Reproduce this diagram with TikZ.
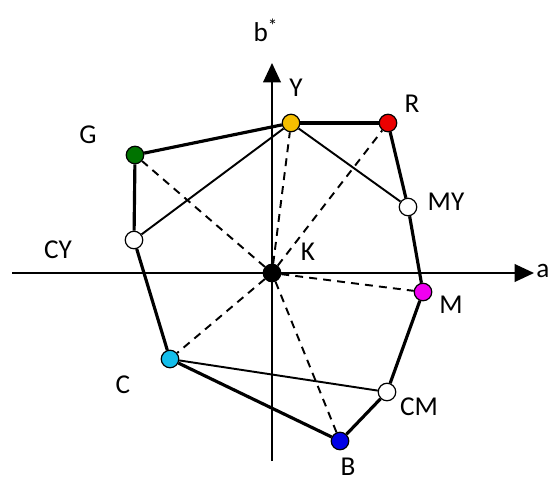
\documentclass[tikz,border=0pt]{standalone}
\usepackage{fontspec}
\setmainfont{Carlito}
\usetikzlibrary{arrows.meta}

\begin{document}
\begin{tikzpicture}[x=0.02cm, y=-0.02cm,
  pt/.style={circle, draw=black, line width=0.7pt, inner sep=0pt, minimum size=0.35cm},
  lbl/.style={font=\fontsize{15.5}{18}\selectfont},
  axis/.style={line width=1.1pt, -{Triangle[length=11pt,width=10pt]}},
  hull/.style={line width=1.8pt},
  thin/.style={line width=1.1pt},
  ray/.style={line width=1.1pt, dash pattern=on 4.5pt off 3.5pt}]
  \useasboundingbox (0,0) rectangle (553,484);

  \coordinate (aw) at (12, 273);
  \coordinate (ae) at (534, 273);
  \coordinate (bs) at (272, 461);
  \coordinate (bn) at (272, 63);

	\draw[axis] (aw) to (ae);
	\draw[axis] (bs) to (bn);

  \node[pt, fill=black] (K) at (272, 273) {};
  \node[pt, fill={rgb,255:red,245;green,190;blue,0}] (Y) at (291, 123) {};
  \node[pt, fill={rgb,255:red,235;green,0;blue,0}] (R) at (388, 123) {};
  \node[pt, fill={rgb,255:red,0;green,115;blue,0}] (G) at (135, 155) {};
  \node[pt, fill=white] (CY) at (134, 240) {};
  \node[pt, fill=white] (MY) at (408, 207) {};
  \node[pt, fill={rgb,255:red,240;green,0;blue,240}] (M) at (423, 292) {};
  \node[pt, fill=white] (CM) at (387, 392) {};
  \node[pt, fill={rgb,255:red,0;green,0;blue,230}] (B) at (340, 441) {};
  \node[pt, fill={rgb,255:red,20;green,190;blue,235}] (C) at (170, 359) {};

  \node[lbl] (lK) at (308, 252) {K};
  \node[lbl] (lY) at (296, 88) {Y};
  \node[lbl] (lR) at (412, 104) {R};
  \node[lbl] (lG) at (88, 135) {G};
  \node[lbl] (lCY) at (58, 250) {CY};
  \node[lbl] (lMY) at (446, 202) {MY};
  \node[lbl] (lM) at (451, 305) {M};
  \node[lbl] (lCM) at (419, 407) {CM};
  \node[lbl] (lB) at (348, 467) {B};
  \node[lbl] (lC) at (123, 385) {C};
  \node[lbl] (lb) at (266, 30) {b\textsuperscript{*}};
  \node[lbl, inner sep=0pt] (la) at (543, 271) {a};

	\draw[hull] (Y) to (R);
	\draw[hull] (R) to (MY);
	\draw[hull] (MY) to (M);
	\draw[hull] (M) to (CM);
	\draw[hull] (CM) to (B);
	\draw[hull] (B) to (C);
	\draw[hull] (C) to (CY);
	\draw[hull] (CY) to (G);
	\draw[hull] (G) to (Y);
	\draw[thin] (Y) to (CY);
	\draw[thin] (Y) to (MY);
	\draw[thin] (C) to (CM);
	\draw[ray] (K) to (G);
	\draw[ray] (K) to (Y);
	\draw[ray] (K) to (R);
	\draw[ray] (K) to (M);
	\draw[ray] (K) to (B);
	\draw[ray] (K) to (C);
\end{tikzpicture}
\end{document}
